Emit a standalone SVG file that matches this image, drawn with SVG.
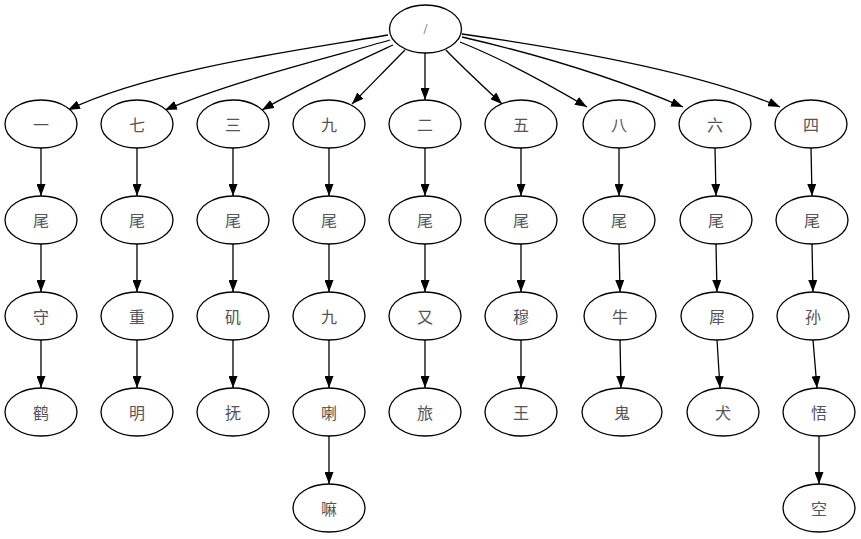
<svg xmlns="http://www.w3.org/2000/svg" width="861" height="539" viewBox="0 0 861 539">
<style>
.n ellipse{fill:#fff;stroke:#000;stroke-width:1.3}
.n text{font-family:"Noto Sans CJK SC","Liberation Serif",serif;font-size:16px;fill:#555;text-anchor:middle;dominant-baseline:central}
.e path{fill:none;stroke:#000;stroke-width:1.3;marker-end:url(#ah)}
</style>
<defs>
<marker id="ah" viewBox="0 0 12 9" refX="12" refY="4.5" markerWidth="12" markerHeight="9" markerUnits="userSpaceOnUse" orient="auto">
<path d="M0,0 L12,4.5 L0,9 Z" fill="#000"/>
</marker>
</defs>
<g class="e" id="edges">
<path d="M388,35 C300,50 150,70 68,110"/>
<path d="M390,40 C320,60 230,82 165,110"/>
<path d="M393,45 C350,65 300,88 262,110"/>
<path d="M405,50 C390,65 368,88 352,104"/>
<path d="M425,53 L425,100"/>
<path d="M446,50 C460,65 485,88 502,104"/>
<path d="M460,42 C510,62 555,88 587,107"/>
<path d="M462,37 C540,55 620,80 683,107"/>
<path d="M462,34 C560,48 700,72 780,107"/>
<path d="M41,148 L41,196"/>
<path d="M137,148 L137,196"/>
<path d="M233,148 L233,196"/>
<path d="M329,148 L329,196"/>
<path d="M425,148 L425,196"/>
<path d="M521,148 L521,196"/>
<path d="M619,148 L619,196"/>
<path d="M715,148 L716,196"/>
<path d="M811,148 L812,196"/>
<path d="M41,244 L41,292"/>
<path d="M137,244 L137,292"/>
<path d="M233,244 L233,292"/>
<path d="M329,244 L329,292"/>
<path d="M425,244 L425,292"/>
<path d="M521,244 L521,292"/>
<path d="M619,244 L620,292"/>
<path d="M716,244 L717,292"/>
<path d="M812,244 L813,292"/>
<path d="M41,340 L41,388"/>
<path d="M137,340 L137,388"/>
<path d="M233,340 L233,388"/>
<path d="M329,340 L329,388"/>
<path d="M425,340 L425,388"/>
<path d="M521,340 L521,388"/>
<path d="M620,340 L621,388"/>
<path d="M717,340 L720,388"/>
<path d="M813,340 L817,388"/>
<path d="M329,436 L329,484"/>
<path d="M819,436 L819,484"/>
</g>
<g class="n" id="root"><ellipse cx="425.5" cy="29" rx="36" ry="24"/><text x="425.5" y="29" style="font-family:'Liberation Serif',serif;font-size:14px">/</text></g>
<g class="n" id="n1"><ellipse cx="41" cy="124" rx="36" ry="24"/><text x="41" y="124">一</text></g>
<g class="n" id="n7"><ellipse cx="137" cy="124" rx="36" ry="24"/><text x="137" y="124">七</text></g>
<g class="n" id="n3"><ellipse cx="233" cy="124" rx="36" ry="24"/><text x="233" y="124">三</text></g>
<g class="n" id="n9"><ellipse cx="329" cy="124" rx="36" ry="24"/><text x="329" y="124">九</text></g>
<g class="n" id="n2"><ellipse cx="425" cy="124" rx="36" ry="24"/><text x="425" y="124">二</text></g>
<g class="n" id="n5"><ellipse cx="521" cy="124" rx="36" ry="24"/><text x="521" y="124">五</text></g>
<g class="n" id="n8"><ellipse cx="619" cy="124" rx="36" ry="24"/><text x="619" y="124">八</text></g>
<g class="n" id="n6"><ellipse cx="715" cy="124" rx="36" ry="24"/><text x="715" y="124">六</text></g>
<g class="n" id="n4"><ellipse cx="811" cy="124" rx="36" ry="24"/><text x="811" y="124">四</text></g>
<g class="n" id="w1"><ellipse cx="41" cy="220" rx="36" ry="24"/><text x="41" y="220">尾</text></g>
<g class="n" id="w7"><ellipse cx="137" cy="220" rx="36" ry="24"/><text x="137" y="220">尾</text></g>
<g class="n" id="w3"><ellipse cx="233" cy="220" rx="36" ry="24"/><text x="233" y="220">尾</text></g>
<g class="n" id="w9"><ellipse cx="329" cy="220" rx="36" ry="24"/><text x="329" y="220">尾</text></g>
<g class="n" id="w2"><ellipse cx="425" cy="220" rx="36" ry="24"/><text x="425" y="220">尾</text></g>
<g class="n" id="w5"><ellipse cx="521" cy="220" rx="36" ry="24"/><text x="521" y="220">尾</text></g>
<g class="n" id="w8"><ellipse cx="619" cy="220" rx="36" ry="24"/><text x="619" y="220">尾</text></g>
<g class="n" id="w6"><ellipse cx="716" cy="220" rx="36" ry="24"/><text x="716" y="220">尾</text></g>
<g class="n" id="w4"><ellipse cx="812" cy="220" rx="36" ry="24"/><text x="812" y="220">尾</text></g>
<g class="n" id="c1"><ellipse cx="41" cy="316" rx="36" ry="24"/><text x="41" y="316">守</text></g>
<g class="n" id="c7"><ellipse cx="137" cy="316" rx="36" ry="24"/><text x="137" y="316">重</text></g>
<g class="n" id="c3"><ellipse cx="233" cy="316" rx="36" ry="24"/><text x="233" y="316">矶</text></g>
<g class="n" id="c9"><ellipse cx="329" cy="316" rx="36" ry="24"/><text x="329" y="316">九</text></g>
<g class="n" id="c2"><ellipse cx="425" cy="316" rx="36" ry="24"/><text x="425" y="316">又</text></g>
<g class="n" id="c5"><ellipse cx="521" cy="316" rx="36" ry="24"/><text x="521" y="316">穆</text></g>
<g class="n" id="c8"><ellipse cx="620" cy="316" rx="36" ry="24"/><text x="620" y="316">牛</text></g>
<g class="n" id="c6"><ellipse cx="717" cy="316" rx="36" ry="24"/><text x="717" y="316">犀</text></g>
<g class="n" id="c4"><ellipse cx="813" cy="316" rx="36" ry="24"/><text x="813" y="316">孙</text></g>
<g class="n" id="d1"><ellipse cx="41" cy="412" rx="36" ry="24"/><text x="41" y="412">鹤</text></g>
<g class="n" id="d7"><ellipse cx="137" cy="412" rx="36" ry="24"/><text x="137" y="412">明</text></g>
<g class="n" id="d3"><ellipse cx="233" cy="412" rx="36" ry="24"/><text x="233" y="412">抚</text></g>
<g class="n" id="d9"><ellipse cx="329" cy="412" rx="36" ry="24"/><text x="329" y="412">喇</text></g>
<g class="n" id="d2"><ellipse cx="425" cy="412" rx="36" ry="24"/><text x="425" y="412">旅</text></g>
<g class="n" id="d5"><ellipse cx="521" cy="412" rx="36" ry="24"/><text x="521" y="412">王</text></g>
<g class="n" id="d8"><ellipse cx="622" cy="412" rx="40" ry="24"/><text x="622" y="412">鬼</text></g>
<g class="n" id="d6"><ellipse cx="723" cy="412" rx="36" ry="24"/><text x="723" y="412">犬</text></g>
<g class="n" id="d4"><ellipse cx="819" cy="412" rx="36" ry="24"/><text x="819" y="412">悟</text></g>
<g class="n" id="e9"><ellipse cx="329" cy="508" rx="36" ry="24"/><text x="329" y="508">嘛</text></g>
<g class="n" id="e4"><ellipse cx="819" cy="508" rx="36" ry="24"/><text x="819" y="508">空</text></g>
</svg>
